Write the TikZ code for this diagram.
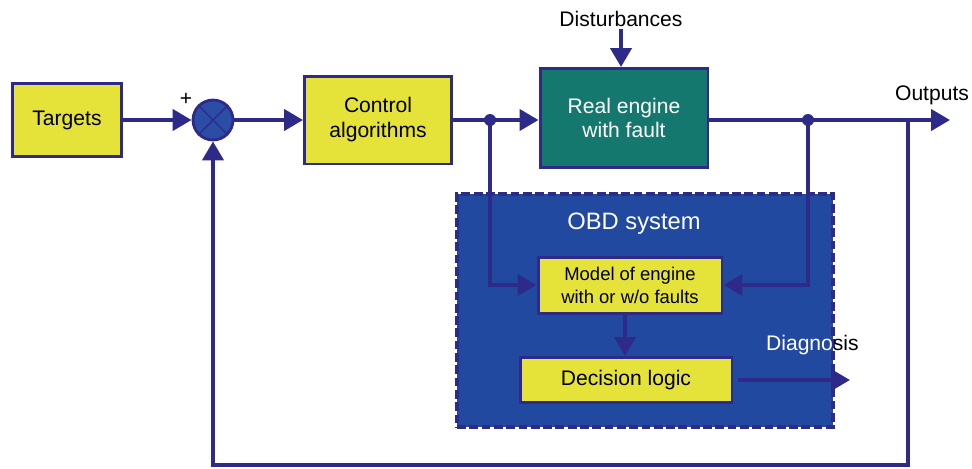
\documentclass[tikz,border=0pt]{standalone}
\usepackage{fontspec}
\setmainfont{Liberation Sans}
\usetikzlibrary{arrows.meta,positioning,calc}
\definecolor{boxyellow}{HTML}{E5E23A}
\definecolor{linenavy}{HTML}{2D2A8A}
\definecolor{engteal}{HTML}{15786F}
\definecolor{obdblue}{HTML}{2149A0}
\definecolor{sumblue}{HTML}{2B4DA6}

\begin{document}
\begin{tikzpicture}[x=0.02cm,y=-0.02cm,font=\fontsize{12}{14}\selectfont,
  box/.style={draw=linenavy,line width=1.7pt,fill=boxyellow,align=center,inner sep=2pt},
  lab/.style={inner sep=1pt,align=center},
  wire/.style={linenavy,line width=2.4pt},
  arr/.style={wire,-{Triangle[length=0.38cm,width=0.42cm]}},
  dot/.style={circle,fill=linenavy,inner sep=0pt,minimum size=0.24cm}]
\useasboundingbox (0,0) rectangle (972,468);
% OBD frame
\node[draw=linenavy,fill=obdblue,line width=2pt,dash pattern=on 5pt off 2pt,minimum width=7.52cm,minimum height=4.66cm] (obd) at (645,310.5) {};
\node[lab,text=white,font=\fontsize{13.5}{16}\selectfont] (obdlab) at (634,224) {OBD system};
% blocks
\node[box,minimum width=2.2cm,minimum height=1.46cm] (tgt) at (67,120) {Targets};
\node[circle,draw=linenavy,fill=sumblue,line width=1.6pt,minimum size=0.8cm,inner sep=0pt] (sum) at (213,120) {};
\draw[linenavy,line width=0.8pt] (sum.45) -- (sum.225) (sum.135) -- (sum.315);
\node[lab] (plus) at (186,99) {+};
\node[box,minimum width=2.94cm,minimum height=1.76cm,font=\fontsize{12}{14.2}\selectfont] (ctrl) at (378,120) {Control\\algorithms};
\node[box,fill=engteal,text=white,minimum width=3.36cm,minimum height=1.98cm,font=\fontsize{12}{13.6}\selectfont] (eng) at (624,118) {Real engine\\with fault};
\node[lab] (dist) at (621,19) {Disturbances};
\node[box,minimum width=3.68cm,minimum height=1.12cm,font=\fontsize{10.5}{13}\selectfont] (model) at (630,285) {Model of engine\\with or w/o faults};
\node[box,minimum width=4.24cm,minimum height=0.9cm] (dec) at (626,380) {Decision logic};
\node[lab] (outlab) at (932,95) {Outputs};
\node[lab,anchor=west] (diaglab) at (764,345) {{\color{white}Diagno}sis};
% junctions and corners
\coordinate (jin) at (490,120);
\coordinate (jout) at (808,120);
\coordinate (jfb) at (908,120);
\coordinate (outend) at (950,120);
\coordinate (fbR) at (908,465);
\coordinate (fbL) at (213,465);
\coordinate (diagend) at (850,380);
% connectors
\draw[arr] (tgt.east) -- (sum.west);
\draw[arr] (sum.east) -- (ctrl.west);
\draw[arr] (ctrl.east) -- (eng.west |- jin);
\draw[arr] (dist.south) -- (dist.south |- eng.north);
\draw[arr] (eng.east |- jout) -- (outend);
\draw[arr] (jin) |- (model.west);
\draw[arr] (jout) |- (model.east);
\draw[arr] (model.south -| 625,0) -- (625,0 |- dec.north);
\draw[arr] ([xshift=0.1cm]dec.east) -- (diagend);
\draw[arr] (jfb) -- (fbR) -- (fbL) -- (sum.south);
\node[dot] at (jin) {};
\node[dot] at (jout) {};
\end{tikzpicture}
\end{document}
